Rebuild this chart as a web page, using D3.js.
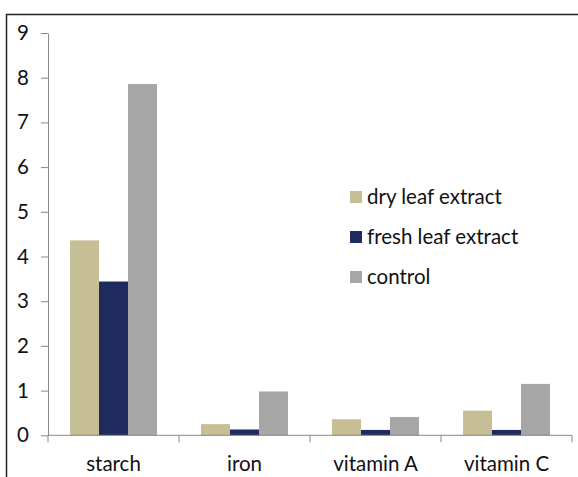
<!DOCTYPE html>
<html>
<head>
<meta charset="utf-8">
<script src="https://cdn.jsdelivr.net/npm/d3@7"></script>
<style>
  body { margin: 0; background: #fff; }
  text { font-family: Lato, "Open Sans", sans-serif; fill: #111; }
</style>
</head>
<body>
<svg id="chart" width="578" height="477"></svg>
<script>
// data
let categories = ["starch", "iron", "vitamin A", "vitamin C"];
let seriesNames = ["dry leaf extract", "fresh leaf extract", "control"];
let dryLeaf = [4.36, 0.25, 0.36, 0.55];
let freshLeaf = [3.44, 0.13, 0.12, 0.12];
let control = [7.86, 0.98, 0.41, 1.15];
let yTicks = [0, 1, 2, 3, 4, 5, 6, 7, 8, 9];
let colors = ["#c6bf96", "#1f2a5e", "#a6a6a6"];

let series = [dryLeaf, freshLeaf, control];
let rows = categories.map((c, i) => ({cat: c, vals: series.map(s => s[i])}));

let svg = d3.select("#chart");
let fontSize = 20.5;

// frame (top + left edge)
svg.append("path")
  .attr("d", "M6.5,477 V14.5 H578")
  .attr("fill", "none")
  .attr("stroke", "#222")
  .attr("stroke-width", 1.5);

let plotLeft = 48, plotRight = 572, plotTop = 33, plotBottom = 435.3;

let x = d3.scaleBand().domain(categories).range([plotLeft, plotRight]).paddingInner(0).paddingOuter(0);
let inner = d3.scaleBand().domain(d3.range(series.length)).range([0, x.bandwidth()]).paddingOuter(0.76).paddingInner(0);
let y = d3.scaleLinear().domain([0, 9]).range([plotBottom, plotTop]);

// bars
let groups = svg.selectAll(".grp")
  .data(rows)
  .enter()
  .append("g")
  .attr("class", "grp")
  .attr("transform", d => "translate(" + x(d.cat) + ",0)");

groups.selectAll("rect")
  .data(d => d.vals)
  .enter()
  .append("rect")
  .attr("x", (d, i) => inner(i))
  .attr("width", inner.bandwidth())
  .attr("y", d => y(d))
  .attr("height", d => y(0) - y(d))
  .attr("fill", (d, i) => colors[i]);

// y axis
let yAxis = svg.append("g")
  .attr("transform", "translate(" + plotLeft + ",0)")
  .call(d3.axisLeft(y).tickValues(yTicks).tickSize(7).tickPadding(12).tickSizeOuter(0));
yAxis.select(".domain").attr("stroke", "#888");
yAxis.selectAll("line").attr("stroke", "#888");
yAxis.selectAll("text").attr("font-size", fontSize).attr("fill", "#111")
  .attr("font-family", "Lato, 'Open Sans', sans-serif");

// x axis with ticks at band edges
let xAxis = svg.append("g")
  .attr("transform", "translate(0," + plotBottom + ")");
xAxis.append("line")
  .attr("x1", plotLeft).attr("x2", plotRight)
  .attr("stroke", "#888");
let edges = categories.map(c => x(c)).concat([x(categories[categories.length - 1]) + x.bandwidth()]);
xAxis.selectAll(".xt")
  .data(edges)
  .enter()
  .append("line")
  .attr("x1", d => d).attr("x2", d => d)
  .attr("y1", 0).attr("y2", 7)
  .attr("stroke", "#888");
xAxis.selectAll(".xl")
  .data(categories)
  .enter()
  .append("text")
  .attr("x", d => x(d) + x.bandwidth() / 2)
  .attr("y", 36)
  .attr("text-anchor", "middle")
  .attr("font-size", fontSize)
  .text(d => d);

// legend
let legend = svg.append("g").attr("transform", "translate(350,0)");
let legendY = d3.scalePoint().domain(seriesNames).range([197, 277]);
seriesNames.forEach((name, i) => {
  legend.append("rect")
    .attr("x", 0).attr("y", legendY(name) - 6)
    .attr("width", 12).attr("height", 12)
    .attr("fill", colors[i]);
  legend.append("text")
    .attr("x", 17).attr("y", legendY(name))
    .attr("dy", "0.35em")
    .attr("font-size", fontSize)
    .text(name);
});
</script>
</body>
</html>
